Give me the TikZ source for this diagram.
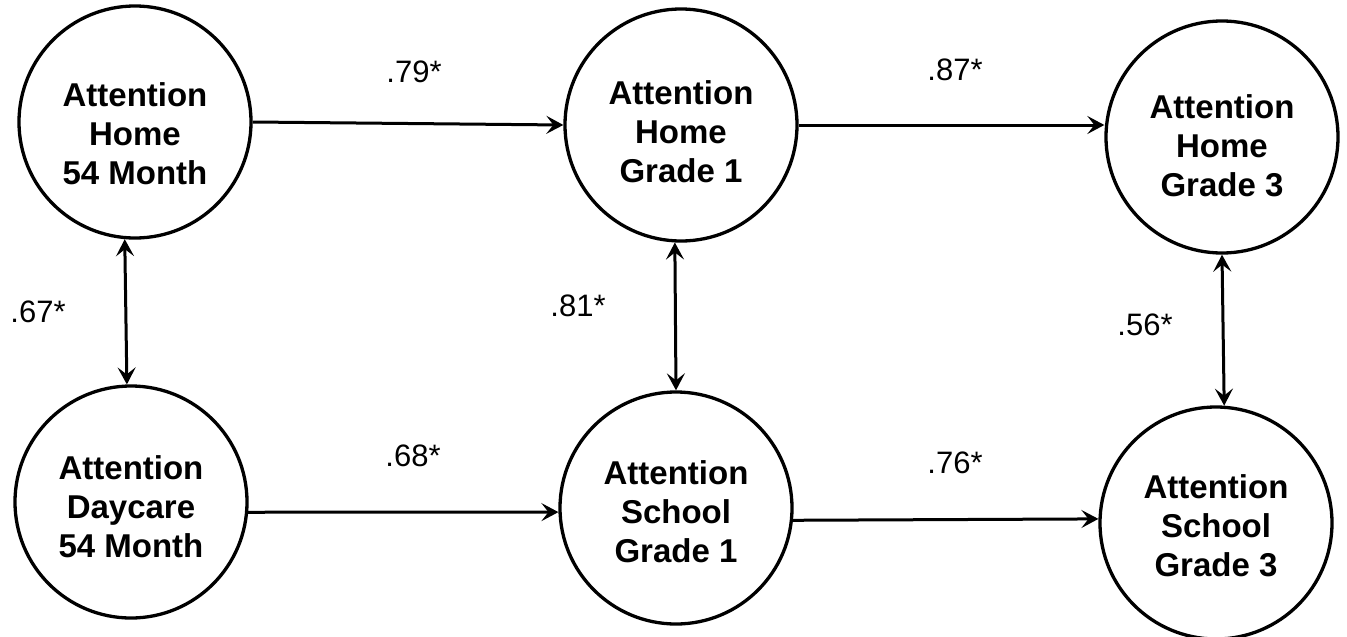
\documentclass[tikz,border=0pt]{standalone}
\usepackage{fontspec}
\setmainfont{Liberation Sans}
\usetikzlibrary{arrows.meta}

\begin{document}
\begin{tikzpicture}[x=1pt, y=-1pt,
    var/.style={circle, draw, line width=3.3pt, minimum size=232pt, inner sep=0pt,
        align=center, text height=110pt, font=\bfseries\fontsize{33}{39}\selectfont},
    coef/.style={font=\fontsize{31}{36}\selectfont},
    link/.style={line width=3pt, -{Stealth[length=17pt, width=18pt, inset=7pt]}},
    corr/.style={line width=3pt, {Stealth[length=17pt, width=18pt, inset=7pt]}-{Stealth[length=17pt, width=18pt, inset=7pt]}}]
    \useasboundingbox (0,0) rectangle (1347,637);

    % 第一行：家庭
    \node[var, text height=126pt] (home54) at (135,122) {Attention\\Home\\54 Month};
    \node[var, text height=116pt] (home1) at (681,125) {Attention\\Home\\Grade 1};
    \node[var, text height=120pt] (home3) at (1222,137) {Attention\\Home\\Grade 3};

    % 第二行：托儿所 / 学校
    \node[var, text height=112pt] (care54) at (131,502) {Attention\\Daycare\\54 Month};
    \node[var, text height=110pt] (school1) at (676,508) {Attention\\School\\Grade 1};
    \node[var, text height=108pt] (school3) at (1216,523) {Attention\\School\\Grade 3};

    % 稳定性路径
    \draw[link] (home54.east) -- (home1.west);
    \draw[link] (home1.east) -- (home3.west |- home1.east);
    \draw[link] (care54.-5) -- (school1.182);
    \draw[link] (school1.-6) -- (school3.178);

    % 相关
    \draw[corr] (home54.265) -- (care54.92);
    \draw[corr] (home1.267) -- (school1.north);
    \draw[corr] (home3.south) -- (school3.86);

    % 系数
    \node[coef] (c79) at (414,72) {.79*};
    \node[coef] (c87) at (955,70) {.87*};
    \node[coef] (c67) at (38,312) {.67*};
    \node[coef] (c81) at (578,306) {.81*};
    \node[coef] (c56) at (1145,325) {.56*};
    \node[coef] (c68) at (413,456) {.68*};
    \node[coef] (c76) at (955,463) {.76*};
\end{tikzpicture}
\end{document}
